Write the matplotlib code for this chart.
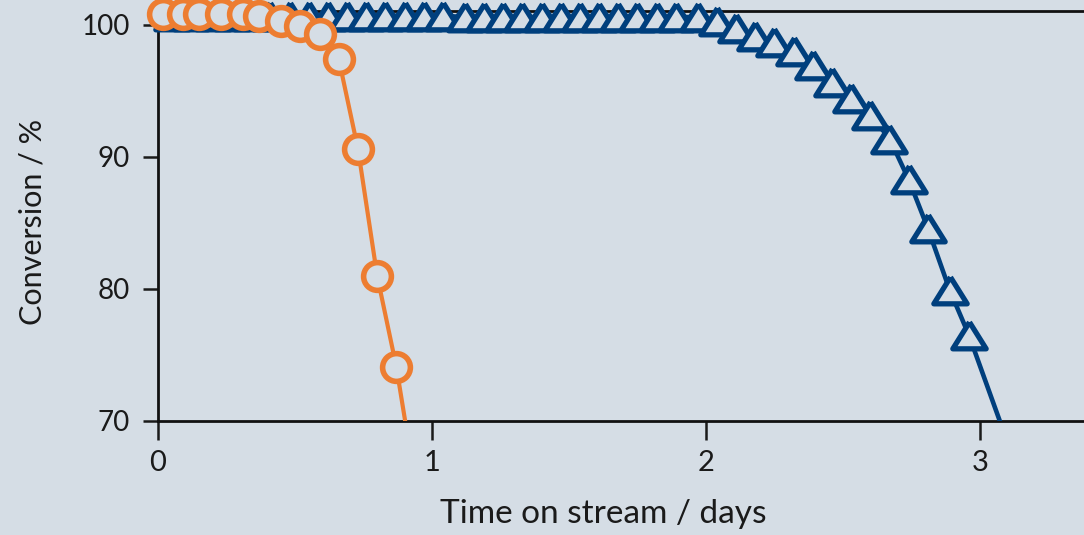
# chart-name: conversion-vs-time-on-stream
import matplotlib
matplotlib.use('Agg')
import matplotlib.pyplot as plt

plt.rcParams['font.family'] = ['Lato', 'DejaVu Sans']

# orange catalyst (circles)
orange_x = [0.02, 0.09, 0.15, 0.23, 0.31, 0.37, 0.45, 0.52, 0.59, 0.66, 0.73, 0.80, 0.87]
orange_y = [100.8, 100.8, 100.8, 100.8, 100.8, 100.65, 100.3, 99.9, 99.3, 97.4, 90.6, 81.0, 74.1]
# fitted curve runs on below the axis
orange_fit_x = orange_x + [0.91]
orange_fit_y = orange_y + [69.0]

# blue catalyst (triangles)
blue_x = [0.05, 0.12, 0.20, 0.27, 0.34, 0.41, 0.48, 0.55, 0.62, 0.69, 0.76, 0.83,
          0.90, 0.97, 1.04, 1.12, 1.19, 1.26, 1.33, 1.40, 1.47, 1.54, 1.61, 1.68,
          1.75, 1.82, 1.89, 1.97, 2.04, 2.11, 2.18, 2.25, 2.32, 2.39, 2.46, 2.53,
          2.60, 2.67, 2.74, 2.81, 2.89, 2.96]
blue_y = [100.7, 100.7, 100.7, 100.7, 100.7, 100.7, 100.7, 100.7, 100.7, 100.7, 100.7, 100.7,
          100.7, 100.7, 100.7, 100.6, 100.6, 100.6, 100.6, 100.6, 100.6, 100.6, 100.6, 100.6,
          100.6, 100.6, 100.6, 100.6, 100.3, 99.8, 99.2, 98.7, 98.0, 97.0, 95.7, 94.5,
          93.2, 91.4, 88.3, 84.6, 79.9, 76.5]
blue_fit_x = blue_x + [3.09]
blue_fit_y = blue_y + [69.0]

bg = '#d5dde5'
orange = '#ed7d31'
blue = '#003f7d'
tri = [(0, 0.8), (-1, -0.8), (1, -0.8), (0, 0.8)]

fig = plt.figure(figsize=(10.84, 5.35), dpi=100, facecolor=bg)
ax = fig.add_axes([158/1084, 114/535, 926/1084, 410/535], facecolor=bg)

ax.plot(blue_fit_x, blue_fit_y, color=blue, lw=3.3, zorder=3)
ax.plot(blue_x, blue_y, ls='none', marker=tri, ms=24, mew=3.8, mec=blue, mfc=bg,
        clip_on=False, zorder=4)
ax.plot(orange_fit_x, orange_fit_y, color=orange, lw=3, zorder=5)
ax.plot(orange_x, orange_y, ls='none', marker='o', ms=20, mew=4, mec=orange, mfc=bg,
        clip_on=False, zorder=6)

ax.set_xlim(0, 3.38)
ax.set_ylim(70, 101.06)
ax.set_xticks([0, 1, 2, 3])
ax.set_yticks([70, 80, 90, 100])
ax.tick_params(axis='x', length=14, width=1.8, pad=7, labelsize=21, colors='#1a1a1a')
ax.tick_params(axis='y', length=11, width=1.8, pad=9, labelsize=20, colors='#1a1a1a')

ax.set_xlabel('Time on stream / days', fontsize=24, color='#1a1a1a')
ax.set_ylabel('Conversion / %', fontsize=22, color='#1a1a1a')
ax.xaxis.set_label_coords(0.481, -0.19)
ax.yaxis.set_label_coords(-0.12, 0.485)

ax.spines['right'].set_visible(False)
for s in ['left', 'bottom', 'top']:
    ax.spines[s].set_linewidth(2)
    ax.spines[s].set_color('#111111')

plt.savefig('out.png', dpi=100, facecolor=bg)
plt.close()
